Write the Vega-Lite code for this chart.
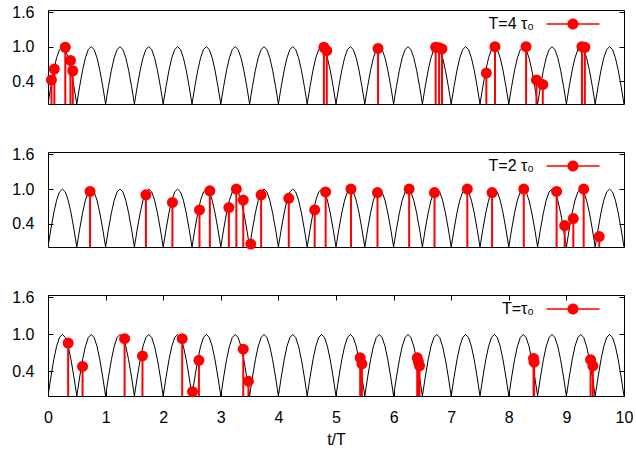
{
"$schema": "https://vega.github.io/schema/vega-lite/v6.json",
"padding": {"left": 11, "top": 3, "right": 5, "bottom": 5},
"background": "white",
"bounds": "flush",
"spacing": 48,
"datasets": {
"curve": [
{"t":0,"v":0},{"t":0.05,"v":0.309},{"t":0.1,"v":0.588},{"t":0.15,"v":0.809},{"t":0.2,"v":0.951},{"t":0.25,"v":1},{"t":0.3,"v":0.951},{"t":0.35,"v":0.809},{"t":0.4,"v":0.588},{"t":0.45,"v":0.309},{"t":0.5,"v":0},{"t":0.55,"v":0.309},{"t":0.6,"v":0.588},{"t":0.65,"v":0.809},{"t":0.7,"v":0.951},{"t":0.75,"v":1},{"t":0.8,"v":0.951},{"t":0.85,"v":0.809},{"t":0.9,"v":0.588},{"t":0.95,"v":0.309},
{"t":1,"v":0},{"t":1.05,"v":0.309},{"t":1.1,"v":0.588},{"t":1.15,"v":0.809},{"t":1.2,"v":0.951},{"t":1.25,"v":1},{"t":1.3,"v":0.951},{"t":1.35,"v":0.809},{"t":1.4,"v":0.588},{"t":1.45,"v":0.309},{"t":1.5,"v":0},{"t":1.55,"v":0.309},{"t":1.6,"v":0.588},{"t":1.65,"v":0.809},{"t":1.7,"v":0.951},{"t":1.75,"v":1},{"t":1.8,"v":0.951},{"t":1.85,"v":0.809},{"t":1.9,"v":0.588},{"t":1.95,"v":0.309},
{"t":2,"v":0},{"t":2.05,"v":0.309},{"t":2.1,"v":0.588},{"t":2.15,"v":0.809},{"t":2.2,"v":0.951},{"t":2.25,"v":1},{"t":2.3,"v":0.951},{"t":2.35,"v":0.809},{"t":2.4,"v":0.588},{"t":2.45,"v":0.309},{"t":2.5,"v":0},{"t":2.55,"v":0.309},{"t":2.6,"v":0.588},{"t":2.65,"v":0.809},{"t":2.7,"v":0.951},{"t":2.75,"v":1},{"t":2.8,"v":0.951},{"t":2.85,"v":0.809},{"t":2.9,"v":0.588},{"t":2.95,"v":0.309},
{"t":3,"v":0},{"t":3.05,"v":0.309},{"t":3.1,"v":0.588},{"t":3.15,"v":0.809},{"t":3.2,"v":0.951},{"t":3.25,"v":1},{"t":3.3,"v":0.951},{"t":3.35,"v":0.809},{"t":3.4,"v":0.588},{"t":3.45,"v":0.309},{"t":3.5,"v":0},{"t":3.55,"v":0.309},{"t":3.6,"v":0.588},{"t":3.65,"v":0.809},{"t":3.7,"v":0.951},{"t":3.75,"v":1},{"t":3.8,"v":0.951},{"t":3.85,"v":0.809},{"t":3.9,"v":0.588},{"t":3.95,"v":0.309},
{"t":4,"v":0},{"t":4.05,"v":0.309},{"t":4.1,"v":0.588},{"t":4.15,"v":0.809},{"t":4.2,"v":0.951},{"t":4.25,"v":1},{"t":4.3,"v":0.951},{"t":4.35,"v":0.809},{"t":4.4,"v":0.588},{"t":4.45,"v":0.309},{"t":4.5,"v":0},{"t":4.55,"v":0.309},{"t":4.6,"v":0.588},{"t":4.65,"v":0.809},{"t":4.7,"v":0.951},{"t":4.75,"v":1},{"t":4.8,"v":0.951},{"t":4.85,"v":0.809},{"t":4.9,"v":0.588},{"t":4.95,"v":0.309},
{"t":5,"v":0},{"t":5.05,"v":0.309},{"t":5.1,"v":0.588},{"t":5.15,"v":0.809},{"t":5.2,"v":0.951},{"t":5.25,"v":1},{"t":5.3,"v":0.951},{"t":5.35,"v":0.809},{"t":5.4,"v":0.588},{"t":5.45,"v":0.309},{"t":5.5,"v":0},{"t":5.55,"v":0.309},{"t":5.6,"v":0.588},{"t":5.65,"v":0.809},{"t":5.7,"v":0.951},{"t":5.75,"v":1},{"t":5.8,"v":0.951},{"t":5.85,"v":0.809},{"t":5.9,"v":0.588},{"t":5.95,"v":0.309},
{"t":6,"v":0},{"t":6.05,"v":0.309},{"t":6.1,"v":0.588},{"t":6.15,"v":0.809},{"t":6.2,"v":0.951},{"t":6.25,"v":1},{"t":6.3,"v":0.951},{"t":6.35,"v":0.809},{"t":6.4,"v":0.588},{"t":6.45,"v":0.309},{"t":6.5,"v":0},{"t":6.55,"v":0.309},{"t":6.6,"v":0.588},{"t":6.65,"v":0.809},{"t":6.7,"v":0.951},{"t":6.75,"v":1},{"t":6.8,"v":0.951},{"t":6.85,"v":0.809},{"t":6.9,"v":0.588},{"t":6.95,"v":0.309},
{"t":7,"v":0},{"t":7.05,"v":0.309},{"t":7.1,"v":0.588},{"t":7.15,"v":0.809},{"t":7.2,"v":0.951},{"t":7.25,"v":1},{"t":7.3,"v":0.951},{"t":7.35,"v":0.809},{"t":7.4,"v":0.588},{"t":7.45,"v":0.309},{"t":7.5,"v":0},{"t":7.55,"v":0.309},{"t":7.6,"v":0.588},{"t":7.65,"v":0.809},{"t":7.7,"v":0.951},{"t":7.75,"v":1},{"t":7.8,"v":0.951},{"t":7.85,"v":0.809},{"t":7.9,"v":0.588},{"t":7.95,"v":0.309},
{"t":8,"v":0},{"t":8.05,"v":0.309},{"t":8.1,"v":0.588},{"t":8.15,"v":0.809},{"t":8.2,"v":0.951},{"t":8.25,"v":1},{"t":8.3,"v":0.951},{"t":8.35,"v":0.809},{"t":8.4,"v":0.588},{"t":8.45,"v":0.309},{"t":8.5,"v":0},{"t":8.55,"v":0.309},{"t":8.6,"v":0.588},{"t":8.65,"v":0.809},{"t":8.7,"v":0.951},{"t":8.75,"v":1},{"t":8.8,"v":0.951},{"t":8.85,"v":0.809},{"t":8.9,"v":0.588},{"t":8.95,"v":0.309},
{"t":9,"v":0},{"t":9.05,"v":0.309},{"t":9.1,"v":0.588},{"t":9.15,"v":0.809},{"t":9.2,"v":0.951},{"t":9.25,"v":1},{"t":9.3,"v":0.951},{"t":9.35,"v":0.809},{"t":9.4,"v":0.588},{"t":9.45,"v":0.309},{"t":9.5,"v":0},{"t":9.55,"v":0.309},{"t":9.6,"v":0.588},{"t":9.65,"v":0.809},{"t":9.7,"v":0.951},{"t":9.75,"v":1},{"t":9.8,"v":0.951},{"t":9.85,"v":0.809},{"t":9.9,"v":0.588},{"t":9.95,"v":0.309},
{"t":10,"v":0}
],
"pts": [
{"p":4,"s":"T=4 τ₀","t":0.06,"v":0.42},{"p":4,"s":"T=4 τ₀","t":0.11,"v":0.61},{"p":4,"s":"T=4 τ₀","t":0.30,"v":0.99},{"p":4,"s":"T=4 τ₀","t":0.39,"v":0.76},{"p":4,"s":"T=4 τ₀","t":0.43,"v":0.58},
{"p":4,"s":"T=4 τ₀","t":4.79,"v":0.99},{"p":4,"s":"T=4 τ₀","t":4.84,"v":0.93},{"p":4,"s":"T=4 τ₀","t":5.73,"v":0.97},
{"p":4,"s":"T=4 τ₀","t":6.73,"v":0.99},{"p":4,"s":"T=4 τ₀","t":6.79,"v":0.98},{"p":4,"s":"T=4 τ₀","t":6.84,"v":0.96},
{"p":4,"s":"T=4 τ₀","t":7.61,"v":0.54},{"p":4,"s":"T=4 τ₀","t":7.76,"v":1.0},{"p":4,"s":"T=4 τ₀","t":8.30,"v":1.0},
{"p":4,"s":"T=4 τ₀","t":8.48,"v":0.42},{"p":4,"s":"T=4 τ₀","t":8.59,"v":0.34},{"p":4,"s":"T=4 τ₀","t":9.27,"v":1.0},{"p":4,"s":"T=4 τ₀","t":9.32,"v":0.99},
{"p":2,"s":"T=2 τ₀","t":0.73,"v":0.96},{"p":2,"s":"T=2 τ₀","t":1.70,"v":0.90},{"p":2,"s":"T=2 τ₀","t":2.16,"v":0.77},{"p":2,"s":"T=2 τ₀","t":2.63,"v":0.64},
{"p":2,"s":"T=2 τ₀","t":2.81,"v":0.97},{"p":2,"s":"T=2 τ₀","t":3.14,"v":0.68},{"p":2,"s":"T=2 τ₀","t":3.27,"v":1.0},{"p":2,"s":"T=2 τ₀","t":3.39,"v":0.81},
{"p":2,"s":"T=2 τ₀","t":3.52,"v":0.05},{"p":2,"s":"T=2 τ₀","t":3.70,"v":0.90},{"p":2,"s":"T=2 τ₀","t":4.18,"v":0.84},{"p":2,"s":"T=2 τ₀","t":4.63,"v":0.64},
{"p":2,"s":"T=2 τ₀","t":4.82,"v":0.95},{"p":2,"s":"T=2 τ₀","t":5.26,"v":1.0},{"p":2,"s":"T=2 τ₀","t":5.72,"v":0.94},{"p":2,"s":"T=2 τ₀","t":6.27,"v":1.0},
{"p":2,"s":"T=2 τ₀","t":6.71,"v":0.94},{"p":2,"s":"T=2 τ₀","t":7.28,"v":1.0},{"p":2,"s":"T=2 τ₀","t":7.71,"v":0.94},{"p":2,"s":"T=2 τ₀","t":8.26,"v":1.0},
{"p":2,"s":"T=2 τ₀","t":8.83,"v":0.96},{"p":2,"s":"T=2 τ₀","t":8.97,"v":0.37},{"p":2,"s":"T=2 τ₀","t":9.12,"v":0.49},{"p":2,"s":"T=2 τ₀","t":9.30,"v":1.0},{"p":2,"s":"T=2 τ₀","t":9.57,"v":0.18},
{"p":1,"s":"T=τ₀","t":0.35,"v":0.86},{"p":1,"s":"T=τ₀","t":0.60,"v":0.48},{"p":1,"s":"T=τ₀","t":1.33,"v":0.93},{"p":1,"s":"T=τ₀","t":1.64,"v":0.65},
{"p":1,"s":"T=τ₀","t":2.33,"v":0.93},{"p":1,"s":"T=τ₀","t":2.51,"v":0.07},{"p":1,"s":"T=τ₀","t":2.62,"v":0.58},{"p":1,"s":"T=τ₀","t":3.39,"v":0.76},
{"p":1,"s":"T=τ₀","t":3.48,"v":0.24},{"p":1,"s":"T=τ₀","t":5.42,"v":0.62},{"p":1,"s":"T=τ₀","t":5.45,"v":0.52},{"p":1,"s":"T=τ₀","t":6.41,"v":0.62},
{"p":1,"s":"T=τ₀","t":6.43,"v":0.56},{"p":1,"s":"T=τ₀","t":6.45,"v":0.49},{"p":1,"s":"T=τ₀","t":8.43,"v":0.61},{"p":1,"s":"T=τ₀","t":8.44,"v":0.55},
{"p":1,"s":"T=τ₀","t":9.42,"v":0.59},{"p":1,"s":"T=τ₀","t":9.46,"v":0.49}
]
},
"vconcat": [
{
"width": 576, "height": 94,
"resolve": {"axis": {"x": "independent", "y": "independent"}},
"layer": [
{"data": {"name": "curve"}, "mark": {"type": "line", "color": "black", "strokeWidth": 1, "clip": true},
 "encoding": {
  "x": {"field": "t", "type": "quantitative", "scale": {"domain": [0, 10], "nice": false}, "axis": null},
  "y": {"field": "v", "type": "quantitative", "scale": {"domain": [0, 1.64], "nice": false, "zero": false}, "axis": {"values": [0.4, 1.0, 1.6], "format": ".1f", "labelPadding": 19, "title": null}}}},
{"data": {"name": "pts"}, "transform": [{"filter": {"field": "p", "equal": 4}}], "mark": {"type": "rule", "color": "red", "strokeWidth": 2},
 "encoding": {
  "x": {"field": "t", "type": "quantitative", "axis": null},
  "y": {"field": "v", "type": "quantitative", "axis": {"orient": "right", "values": [0.4, 1.0, 1.6], "labels": false, "title": null}},
  "y2": {"datum": 0}}},
{"data": {"name": "pts"}, "transform": [{"filter": {"field": "p", "equal": 4}}], "mark": {"type": "circle", "size": 121, "opacity": 1},
 "encoding": {
  "x": {"field": "t", "type": "quantitative", "axis": null},
  "y": {"field": "v", "type": "quantitative", "axis": null},
  "color": {"field": "s", "type": "nominal", "scale": {"range": ["red"]},
   "legend": {"title": null, "orient": "none", "legendX": 517, "legendY": 6, "padding": 0, "symbolType": "M-4.82,-0.13L4.82,-0.13L4.82,0.13L-4.82,0.13ZM-1,0A1,1,0,1,1,1,0A1,1,0,1,1,-1,0Z", "symbolSize": 121, "labelAlign": "right", "labelOffset": -47, "labelFontSize": 16, "labelFont": "Liberation Sans", "labelColor": "black",
    "encode": {"symbols": {"update": {"shape": {"value": "M-4.82,-0.13L4.82,-0.13L4.82,0.13L-4.82,0.13ZM-1,0A1,1,0,1,1,1,0A1,1,0,1,1,-1,0Z"}, "fill": {"value": "red"}, "opacity": {"value": 1}}}}}}}}
]
},
{
"width": 576, "height": 95,
"resolve": {"axis": {"x": "independent", "y": "independent"}},
"layer": [
{"data": {"name": "curve"}, "mark": {"type": "line", "color": "black", "strokeWidth": 1, "clip": true},
 "encoding": {
  "x": {"field": "t", "type": "quantitative", "scale": {"domain": [0, 10], "nice": false}, "axis": null},
  "y": {"field": "v", "type": "quantitative", "scale": {"domain": [0, 1.64], "nice": false, "zero": false}, "axis": {"values": [0.4, 1.0, 1.6], "format": ".1f", "labelPadding": 19, "title": null}}}},
{"data": {"name": "pts"}, "transform": [{"filter": {"field": "p", "equal": 2}}], "mark": {"type": "rule", "color": "red", "strokeWidth": 2},
 "encoding": {
  "x": {"field": "t", "type": "quantitative", "axis": null},
  "y": {"field": "v", "type": "quantitative", "axis": {"orient": "right", "values": [0.4, 1.0, 1.6], "labels": false, "title": null}},
  "y2": {"datum": 0}}},
{"data": {"name": "pts"}, "transform": [{"filter": {"field": "p", "equal": 2}}], "mark": {"type": "circle", "size": 121, "opacity": 1},
 "encoding": {
  "x": {"field": "t", "type": "quantitative", "axis": null},
  "y": {"field": "v", "type": "quantitative", "axis": null},
  "color": {"field": "s", "type": "nominal", "scale": {"range": ["red"]},
   "legend": {"title": null, "orient": "none", "legendX": 517, "legendY": 6, "padding": 0, "symbolType": "M-4.82,-0.13L4.82,-0.13L4.82,0.13L-4.82,0.13ZM-1,0A1,1,0,1,1,1,0A1,1,0,1,1,-1,0Z", "symbolSize": 121, "labelAlign": "right", "labelOffset": -47, "labelFontSize": 16, "labelFont": "Liberation Sans", "labelColor": "black",
    "encode": {"symbols": {"update": {"shape": {"value": "M-4.82,-0.13L4.82,-0.13L4.82,0.13L-4.82,0.13ZM-1,0A1,1,0,1,1,1,0A1,1,0,1,1,-1,0Z"}, "fill": {"value": "red"}, "opacity": {"value": 1}}}}}}}}
]
},
{
"width": 576, "height": 101,
"resolve": {"axis": {"x": "independent", "y": "independent"}},
"layer": [
{"data": {"name": "curve"}, "mark": {"type": "line", "color": "black", "strokeWidth": 1, "clip": true},
 "encoding": {
  "x": {"field": "t", "type": "quantitative", "scale": {"domain": [0, 10], "nice": false}, "axis": {"values": [0,1,2,3,4,5,6,7,8,9,10], "format": "d", "labelPadding": 18, "title": "t/T", "titlePadding": 6}},
  "y": {"field": "v", "type": "quantitative", "scale": {"domain": [0, 1.64], "nice": false, "zero": false}, "axis": {"values": [0.4, 1.0, 1.6], "format": ".1f", "labelPadding": 19, "title": null}}}},
{"data": {"name": "pts"}, "transform": [{"filter": {"field": "p", "equal": 1}}], "mark": {"type": "rule", "color": "red", "strokeWidth": 2},
 "encoding": {
  "x": {"field": "t", "type": "quantitative", "axis": {"orient": "top", "values": [0,1,2,3,4,5,6,7,8,9,10], "labels": false, "title": null}},
  "y": {"field": "v", "type": "quantitative", "axis": {"orient": "right", "values": [0.4, 1.0, 1.6], "labels": false, "title": null}},
  "y2": {"datum": 0}}},
{"data": {"name": "pts"}, "transform": [{"filter": {"field": "p", "equal": 1}}], "mark": {"type": "circle", "size": 121, "opacity": 1},
 "encoding": {
  "x": {"field": "t", "type": "quantitative", "axis": null},
  "y": {"field": "v", "type": "quantitative", "axis": null},
  "color": {"field": "s", "type": "nominal", "scale": {"range": ["red"]},
   "legend": {"title": null, "orient": "none", "legendX": 517, "legendY": 6, "padding": 0, "symbolType": "M-4.82,-0.13L4.82,-0.13L4.82,0.13L-4.82,0.13ZM-1,0A1,1,0,1,1,1,0A1,1,0,1,1,-1,0Z", "symbolSize": 121, "labelAlign": "right", "labelOffset": -47, "labelFontSize": 16, "labelFont": "Liberation Sans", "labelColor": "black",
    "encode": {"symbols": {"update": {"shape": {"value": "M-4.82,-0.13L4.82,-0.13L4.82,0.13L-4.82,0.13ZM-1,0A1,1,0,1,1,1,0A1,1,0,1,1,-1,0Z"}, "fill": {"value": "red"}, "opacity": {"value": 1}}}}}}}}
]
}
],
"resolve": {"scale": {"color": "independent"}, "legend": {"color": "independent"}},
"config": {
 "view": {"stroke": "black", "strokeWidth": 1},
 "font": "Liberation Sans",
 "axis": {"domain": false, "grid": false, "tickSize": -5, "tickColor": "black", "tickWidth": 1, "labelFontSize": 16, "labelColor": "black", "labelFont": "Liberation Sans", "titleFont": "Liberation Sans", "titleFontSize": 16, "titleFontWeight": "normal", "titleColor": "black", "labelFlush": false, "labelOverlap": false}
}
}
